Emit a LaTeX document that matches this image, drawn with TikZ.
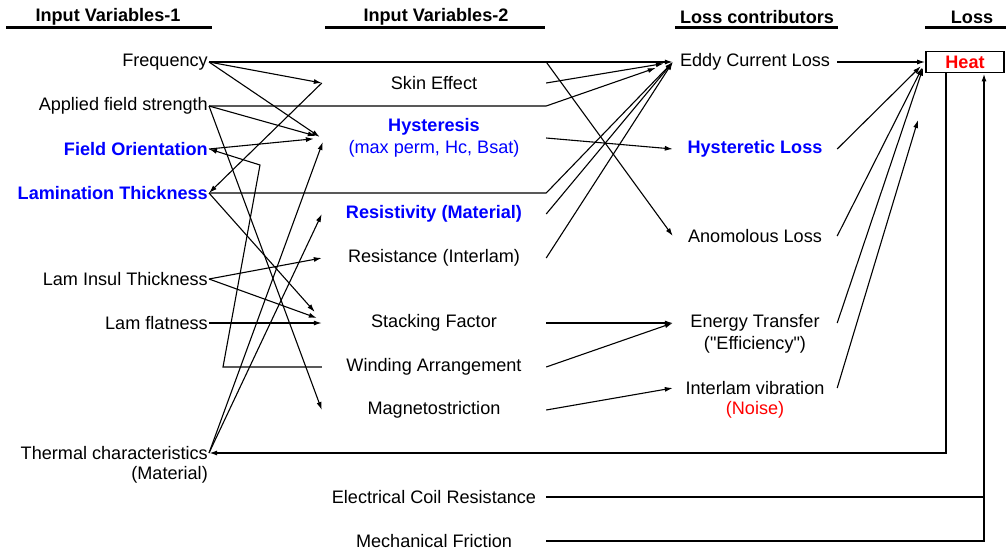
\documentclass[tikz,border=0pt]{standalone}
\usepackage{fontspec}
\setmainfont{Liberation Sans}
\usepackage{tikz}
\usetikzlibrary{calc,arrows.meta}

\newcommand{\dfont}{\fontsize{18.1}{21.5}\selectfont}

\tikzset{
  var/.style={inner xsep=1pt, inner ysep=1pt, font=\dfont},
  keyvar/.style={var, text=blue, font=\dfont\bfseries},
  midcol/.style={minimum width=224pt, inner sep=0pt, align=center},
  losscol/.style={minimum width=164pt, inner sep=0pt, align=center},
  hdr/.style={font=\dfont\bfseries},
  hdrline/.style={line width=3pt},
  ln/.style={line width=1.1pt},
  arr/.style={ln, -{Latex[length=8pt,width=5pt]}},
  fbline/.style={line width=1.6pt, -{Latex[length=8pt,width=5pt]}}
}

\begin{document}
\begin{tikzpicture}[x=1pt, y=-1pt]

\useasboundingbox (0,0) rectangle (1006,551);

% headers
\node (h1) at (108,17) [hdr] {Input Variables-1};
\node (h2) at (436,17) [hdr] {Input Variables-2};
\node (h3) at (757,17) [hdr] {Loss contributors};
\node (h4) at (972,17) [hdr] {Loss};
\draw [hdrline] (6,28) -- (212,28);
\draw [hdrline] (325,28) -- (545,28);
\draw [hdrline] (675,28) -- (838,28);
\draw [hdrline] (925,28) -- (1006,28);

% input variables 1
\node (freq) at (209,62) [var, anchor=east] {Frequency};
\node (afs) at (209,106) [var, anchor=east] {Applied field strength};
\node (fo) at (209,149) [keyvar, anchor=east] {Field Orientation};
\node (lt) at (209,193) [keyvar, anchor=east] {Lamination Thickness};
\node (lit) at (209,279) [var, anchor=east] {Lam Insul Thickness};
\node (lf) at (209,323) [var, anchor=east] {Lam flatness};
\node (tc) at (209,453) [var, anchor=east] {Thermal characteristics};
\node (tcb) at (209,475) [var, anchor=east] {(Material)};

% input variables 2
\node (skin) at (434,83) [midcol, font=\dfont] {Skin Effect};
\node (hyst) at (434,138) [midcol, font=\dfont, text=blue] {\textbf{Hysteresis}\\(max perm, Hc, Bsat)};
\node (resv) at (434,214) [midcol, font=\dfont\bfseries, text=blue] {Resistivity (Material)};
\node (resi) at (434,258) [midcol, font=\dfont] {Resistance (Interlam)};
\node (stack) at (434,323) [midcol, font=\dfont] {Stacking Factor};
\node (wind) at (434,367) [midcol, font=\dfont] {Winding Arrangement};
\node (magn) at (434,410) [midcol, font=\dfont] {Magnetostriction};
\node (ecoil) at (434,497) [midcol, font=\dfont] {Electrical Coil Resistance};
\node (mech) at (434,541) [midcol, font=\dfont] {Mechanical Friction};

% loss contributors
\node (eddy) at (755,62) [losscol, font=\dfont] {Eddy Current Loss};
\node (hloss) at (755,149) [losscol, font=\dfont\bfseries, text=blue] {Hysteretic Loss};
\node (anom) at (755,236) [losscol, font=\dfont] {Anomolous Loss};
\node (energy) at (755,323) [losscol, font=\dfont] {Energy Transfer};
\node (energyb) at (755,345) [var] {(\textquotedbl Efficiency\textquotedbl)};
\node (vib) at (755,388) [losscol, font=\dfont] {Interlam vibration};
\node (noise) at (755,410) [var, text=red] {(Noise)};

% loss
\node (heat) at (965,62) [draw, line width=1.8pt, minimum width=78pt, minimum height=21pt, inner sep=0pt, text=red, font=\dfont\bfseries] {Heat};

\coordinate (wbend1) at (223,367);
\coordinate (wbend2) at (260,165);
\coordinate (vibend) at (918,120);
\coordinate (hout) at ([xshift=-19pt]heat.south);
\coordinate (hin) at ([xshift=19pt]heat.south);

% variables 1 -> variables 2
\draw [arr] (freq.east) -- (eddy.west);
\draw [arr] (freq.east -| skin.east) -- (anom.west);
\draw [arr] (freq.east) -- (skin.west);
\draw [arr] (freq.east) -- ($(hyst.west)+(-2,-1)$);

\draw [arr, shorten >=18pt] (afs.east) -- (afs.east -| skin.east) -- (eddy.west);
\draw [arr] (afs.east) -- ($(hyst.west)+(-6,-2)$);
\draw [arr] (afs.east) -- (magn.west);

\draw [arr, shorten >=8pt] (fo.east) -- (hyst.west);
\draw [arr] (wind.west) -- (wbend1) -- (wbend2) -- (fo.east);

\draw [arr] (lt.east) -- (lt.east -| skin.east) -- (eddy.west);
\draw [arr] (lt.east) -- ($(stack.west)+(-7,-11)$);
\draw [arr] (skin.west) -- (lt.east);

\draw [arr] (lit.east) -- (resi.west);
\draw [arr] (lit.east) -- ($(stack.west)+(-5,-5)$);
\draw [arr] (lf.east) -- (stack.west);

\draw [arr] (tc.east) -- ($(hyst.west)+(1,4)$);
\draw [arr] (tc.east) -- (resv.west);

% variables 2 -> loss contributors
\draw [arr, shorten >=9pt] (skin.east) -- (eddy.west);
\draw [arr] (hyst.east) -- (hloss.west);
\draw [arr] (resv.east) -- (eddy.west);
\draw [arr] (resi.east) -- (eddy.west);
\draw [arr] (stack.east) -- (energy.west);
\draw [arr] (wind.east) -- (energy.west);
\draw [arr] (magn.east) -- (vib.west);

% loss contributors -> heat
\draw [arr] (eddy.east) -- (heat.west);
\draw [arr, shorten >=6pt] (hloss.east) -- (heat.west);
\draw [arr, shorten >=6pt] (anom.east) -- (heat.west);
\draw [arr, shorten >=6pt] (energy.east) -- (heat.west);
\draw [arr] (vib.east) -- (vibend);

% feedback
\draw [fbline] (hout) |- (tc.east);
\draw [fbline] (ecoil.east) -| (hin);
\draw [line width=1.6pt] (mech.east) -| (hin |- ecoil.east);

\end{tikzpicture}
\end{document}
